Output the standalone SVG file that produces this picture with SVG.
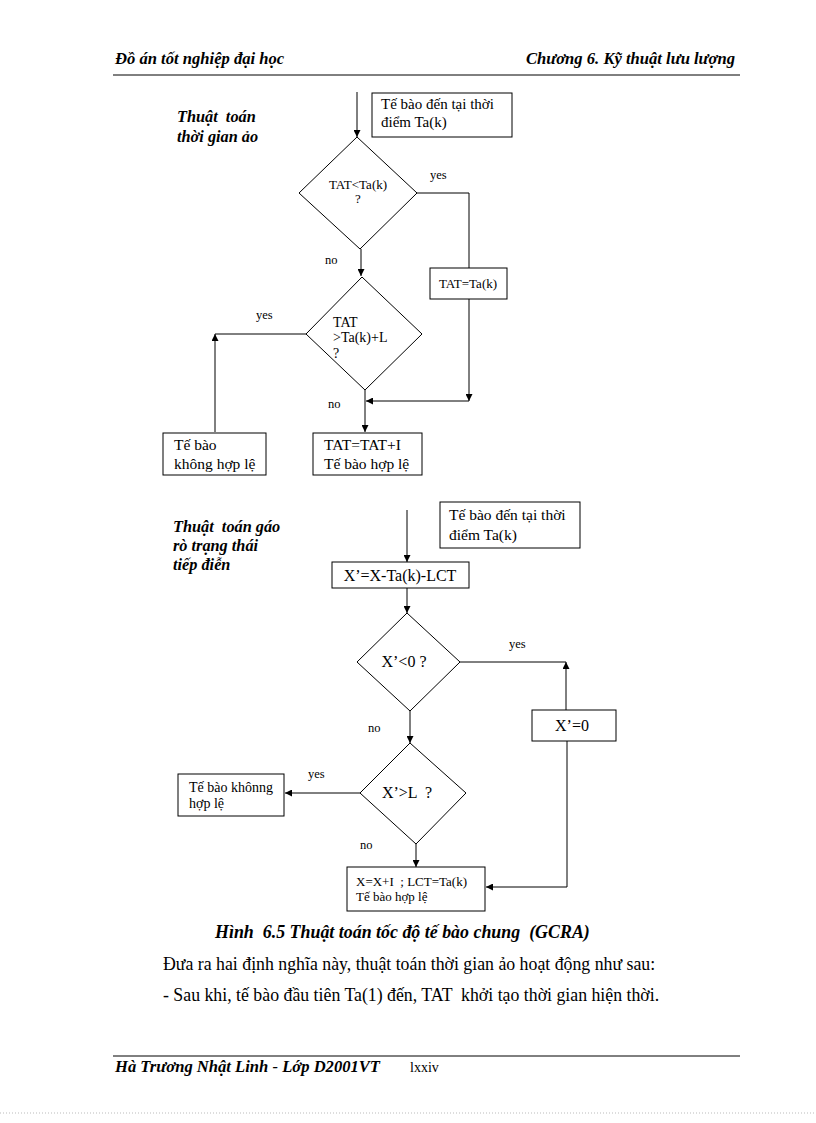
<svg xmlns="http://www.w3.org/2000/svg" width="816" height="1123" viewBox="0 0 816 1123">
<style>
text{font-family:"Liberation Serif","Times New Roman",serif;fill:#000;white-space:pre}
.hd{font-size:16.6px;font-style:italic;font-weight:bold}
.ttl{font-size:16.3px;font-style:italic;font-weight:bold}
.cap{font-size:17.9px;font-style:italic;font-weight:bold}
.body{font-size:17.8px}
.t13{font-size:13px}
.t14{font-size:14px}
.t15{font-size:15px}
.t155{font-size:15.5px}
.t16{font-size:16px}
.lbl{font-size:12.5px}
.shape{fill:#fff;stroke:#000;stroke-width:1}
.conn{fill:none;stroke:#000;stroke-width:1}
</style>
<defs>
<marker id="ah" viewBox="0 0 10 10" refX="10" refY="5" markerWidth="7" markerHeight="7" markerUnits="userSpaceOnUse" orient="auto">
<path d="M0,0 L10,5 L0,10 z" fill="#000"/>
</marker>
</defs>
<rect width="816" height="1123" fill="#fff"/>

<g id="header">
<text class="hd" x="115" y="64">Đồ án tốt nghiệp đại học</text>
<text class="hd" x="735" y="64" text-anchor="end">Chương 6. Kỹ thuật lưu lượng</text>
<line x1="113" y1="75" x2="740" y2="75" stroke="#000" stroke-width="1"/>
</g>

<g id="title1">
<text class="ttl" x="177" y="122">Thuật  toán</text>
<text class="ttl" x="177" y="142">thời gian ảo</text>
</g>

<g id="connectors1">
<line class="conn" x1="357" y1="92" x2="357" y2="137" marker-end="url(#ah)"/>
<polyline class="conn" points="417,193 469,193 469,268"/>
<line class="conn" x1="361" y1="249" x2="361" y2="276" marker-end="url(#ah)"/>
<line class="conn" x1="469" y1="299" x2="469" y2="401" marker-end="url(#ah)"/>
<line class="conn" x1="469" y1="401" x2="366" y2="401" marker-end="url(#ah)"/>
<line class="conn" x1="365" y1="390" x2="365" y2="432" marker-end="url(#ah)"/>
<line class="conn" x1="306" y1="334" x2="215" y2="334"/>
<line class="conn" x1="215" y1="432" x2="215" y2="334" marker-end="url(#ah)"/>
<text class="lbl" x="430" y="179">yes</text>
<text class="lbl" x="325" y="264">no</text>
<text class="lbl" x="256" y="319">yes</text>
<text class="lbl" x="328" y="408">no</text>
</g>

<g id="n1_start">
<rect class="shape" x="372" y="93" width="140" height="44"/>
<text class="t15" x="381" y="109">Tế bào đến tại thời</text>
<text class="t15" x="381" y="127">điểm Ta(k)</text>
</g>
<g id="n1_d1">
<polygon class="shape" points="357,137 417,193 360,249 299,193"/>
<text class="t13" x="358" y="189" text-anchor="middle">TAT&lt;Ta(k)</text>
<text class="t13" x="358" y="203" text-anchor="middle">?</text>
</g>
<g id="n1_set">
<rect class="shape" x="430" y="268" width="77" height="31"/>
<text class="t13" x="468" y="288" text-anchor="middle">TAT=Ta(k)</text>
</g>
<g id="n1_d2">
<polygon class="shape" points="362,277 422,334 365,390 306,334"/>
<text class="t14" x="333" y="327">TAT</text>
<text class="t14" x="333" y="342">&gt;Ta(k)+L</text>
<text class="t14" x="333" y="358">?</text>
</g>
<g id="n1_invalid">
<rect class="shape" x="163" y="433" width="103" height="42"/>
<text class="t155" x="174" y="450">Tế bào</text>
<text class="t155" x="174" y="469">không hợp lệ</text>
</g>
<g id="n1_valid">
<rect class="shape" x="313" y="433" width="109" height="42"/>
<text class="t155" x="324" y="450">TAT=TAT+I</text>
<text class="t155" x="324" y="469">Tế bào hợp lệ</text>
</g>

<g id="title2">
<text class="ttl" x="173" y="532">Thuật  toán gáo</text>
<text class="ttl" x="173" y="551">rò trạng thái</text>
<text class="ttl" x="173" y="570">tiếp điễn</text>
</g>

<g id="connectors2">
<line class="conn" x1="407" y1="510" x2="407" y2="562" marker-end="url(#ah)"/>
<line class="conn" x1="407" y1="588" x2="407" y2="613" marker-end="url(#ah)"/>
<line class="conn" x1="460" y1="662" x2="566" y2="662"/>
<line class="conn" x1="566" y1="710" x2="566" y2="662" marker-end="url(#ah)"/>
<line class="conn" x1="410" y1="711" x2="410" y2="743" marker-end="url(#ah)"/>
<line class="conn" x1="360" y1="793" x2="285" y2="793" marker-end="url(#ah)"/>
<line class="conn" x1="416" y1="844" x2="416" y2="867" marker-end="url(#ah)"/>
<polyline class="conn" points="567,741 567,887 486,887" marker-end="url(#ah)"/>
<text class="lbl" x="509" y="648">yes</text>
<text class="lbl" x="368" y="732">no</text>
<text class="lbl" x="308" y="778">yes</text>
<text class="lbl" x="360" y="849">no</text>
</g>

<g id="n2_start">
<rect class="shape" x="440" y="502" width="140" height="46"/>
<text class="t155" x="449" y="520">Tế bào đến tại thời</text>
<text class="t155" x="449" y="540">điểm Ta(k)</text>
</g>
<g id="n2_calc">
<rect class="shape" x="332" y="562" width="137" height="26"/>
<text class="t16" x="400" y="581" text-anchor="middle">X’=X-Ta(k)-LCT</text>
</g>
<g id="n2_d1">
<polygon class="shape" points="407,613 460,662 410,711 357,662"/>
<text class="t16" x="404" y="667" text-anchor="middle">X’&lt;0 ?</text>
</g>
<g id="n2_zero">
<rect class="shape" x="532" y="710" width="84" height="31"/>
<text class="t16" x="572" y="731" text-anchor="middle">X’=0</text>
</g>
<g id="n2_d2">
<polygon class="shape" points="410,743 466,793 416,844 360,793"/>
<text class="t16" x="407" y="798" text-anchor="middle">X’&gt;L  ?</text>
</g>
<g id="n2_invalid">
<rect class="shape" x="178" y="774" width="106" height="42"/>
<text class="t14" x="189" y="792">Tế bào khônng</text>
<text class="t14" x="189" y="808">hợp lệ</text>
</g>
<g id="n2_valid">
<rect class="shape" x="347" y="867" width="138" height="44"/>
<text class="t13" x="356" y="886">X=X+I  ; LCT=Ta(k)</text>
<text class="t13" x="356" y="901">Tế bào hợp lệ</text>
</g>

<g id="caption">
<text class="cap" x="215" y="938">Hình  6.5 Thuật toán tốc độ tế bào chung  (GCRA)</text>
<text class="body" x="163" y="970">Đưa ra hai định nghĩa này, thuật toán thời gian ảo hoạt động như sau:</text>
<text class="body" x="163" y="1001">- Sau khi, tế bào đầu tiên Ta(1) đến, TAT  khởi tạo thời gian hiện thời.</text>
</g>

<g id="footer">
<line x1="113" y1="1056" x2="740" y2="1056" stroke="#000" stroke-width="1"/>
<text class="hd" x="115" y="1072">Hà Trương Nhật Linh - Lớp D2001VT</text>
<text class="t14" x="410" y="1072">lxxiv</text>
<line x1="0" y1="1113" x2="816" y2="1113" stroke="#bbb" stroke-width="1" stroke-dasharray="1,2"/>
</g>
</svg>
